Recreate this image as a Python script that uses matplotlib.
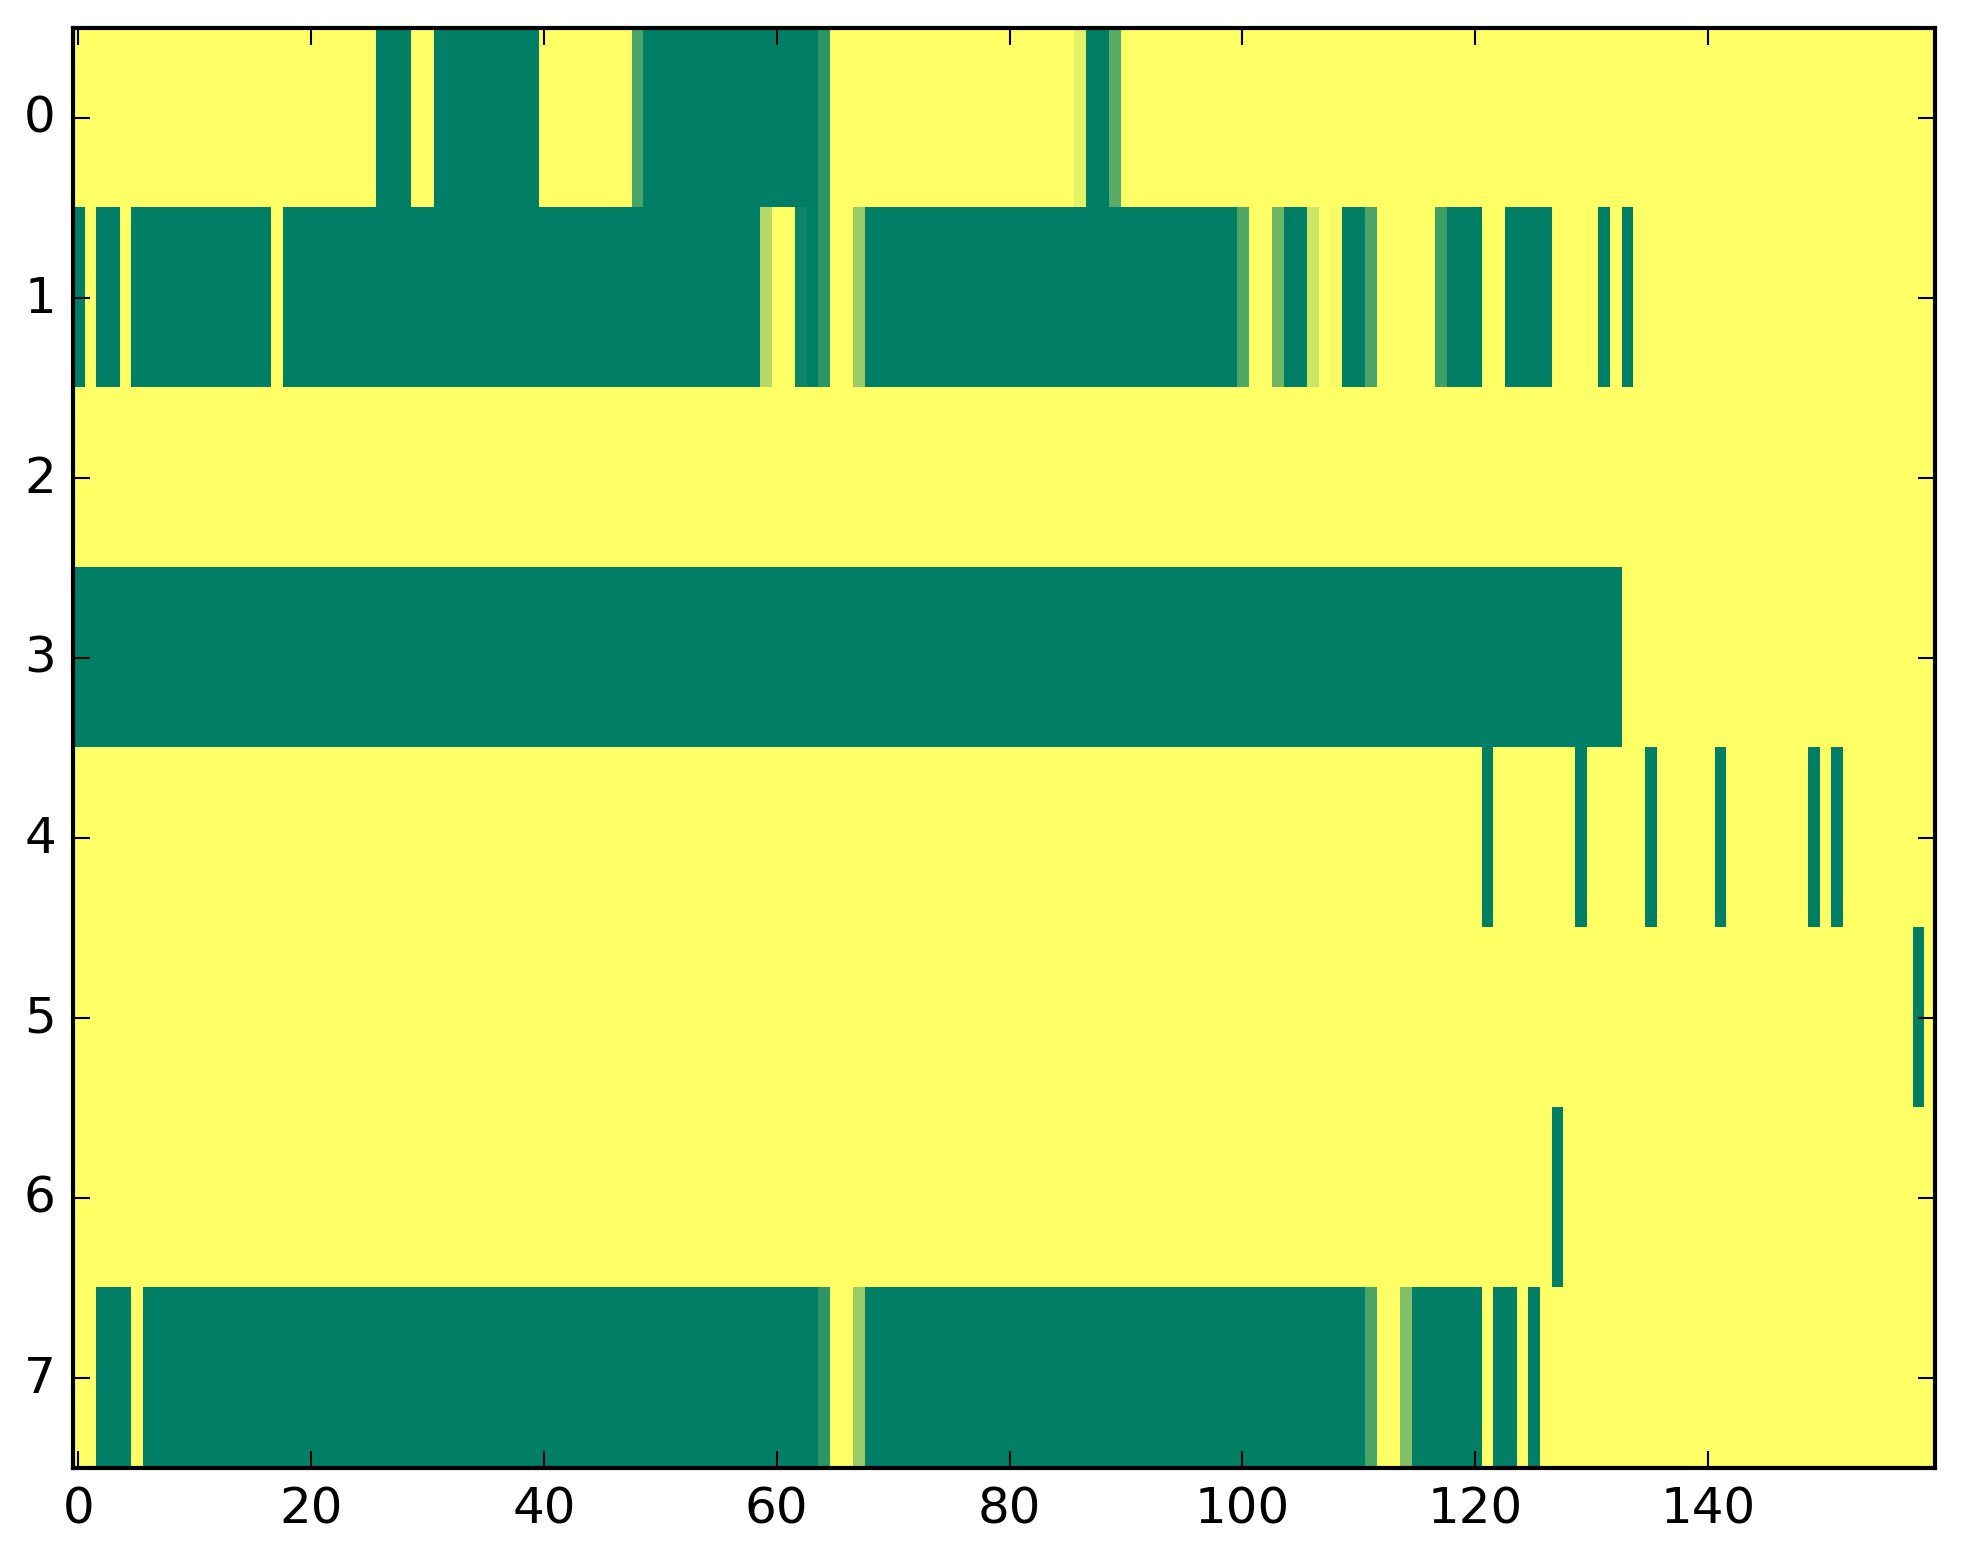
import numpy as np
import matplotlib
matplotlib.use("Agg")
import matplotlib.pyplot as plt

# Each row given as run-length pairs (value, count); 160 columns per row.
row0 = [(1, 26), (0, 3), (1, 2), (0, 9), (1, 8), (0.29, 1), (0, 15), (0.17, 1),
        (1, 21), (0.90, 1), (0, 2), (0.35, 1), (1, 70)]
row1 = [(0, 1), (1, 1), (0, 2), (1, 1), (0, 12), (1, 1), (0, 41), (0.70, 1),
        (1, 2), (0.055, 1), (0, 1), (0.17, 1), (1, 2), (0.60, 1), (0, 32),
        (0.31, 1), (1, 2), (0.43, 1), (0, 2), (0.80, 1), (1, 1), (0.96, 1),
        (0, 2), (0.29, 1), (1, 5), (0.25, 1), (0, 3), (1, 2), (0, 4), (1, 4),
        (0, 1), (1, 1), (0, 1), (1, 26)]
row2 = [(1, 160)]
row3 = [(0, 133), (1, 27)]
row4 = [(1, 121), (0, 1), (1, 7), (0, 1), (1, 5), (0, 1), (1, 5), (0, 1),
        (1, 7), (0, 1), (1, 1), (0, 1), (1, 8)]
row5 = [(1, 158), (0, 1), (1, 1)]
row6 = [(1, 127), (0, 1), (1, 32)]
row7 = [(1, 2), (0, 3), (1, 1), (0, 58), (0.17, 1), (1, 2), (0.60, 1), (0, 43),
        (0.29, 1), (1, 2), (0.50, 1), (0, 6), (1, 1), (0, 2), (1, 1), (0, 1),
        (1, 34)]

rows = [row0, row1, row2, row3, row4, row5, row6, row7]


def expand(runs):
    out = []
    for v, n in runs:
        out.extend([v] * n)
    return out


data = np.array([expand(r) for r in rows], dtype=float)

plt.style.use("classic")
W, H, DPI = 1963, 1564, 300
fig = plt.figure(figsize=(W / DPI, H / DPI), dpi=DPI)
ax = fig.add_axes([72.5 / W, (H - 1468.5) / H, 1862.5 / W, 1439.5 / H])
ax.imshow(data, cmap="summer", aspect="auto", interpolation="nearest",
          vmin=0, vmax=1)
ax.set_xticks(np.arange(0, 160, 20))
ax.set_yticks(np.arange(0, 8, 1))
ax.set_xlim(-0.5, 159.5)
ax.set_ylim(7.5, -0.5)
fig.savefig("out.png", dpi=DPI)
